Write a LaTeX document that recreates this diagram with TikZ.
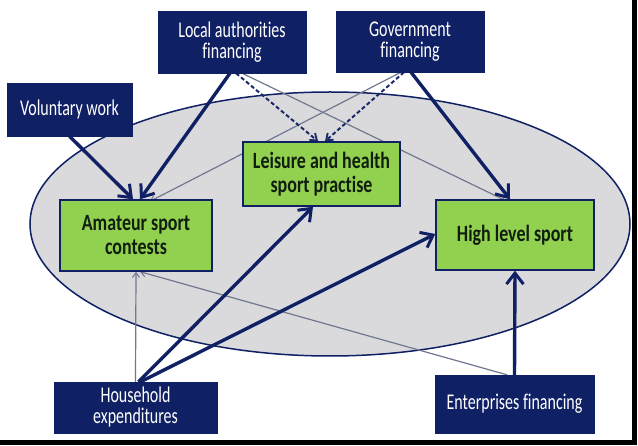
\documentclass[tikz,border=0pt]{standalone}
\usepackage{fontspec}
\setmainfont{Carlito}[FakeStretch=0.82]
\newfontfamily\srcfont{Carlito}[FakeStretch=0.71,Ligatures=NoCommon]
\newfontfamily\tgtfont{Carlito}[FakeStretch=0.77,Ligatures=NoCommon]
\usetikzlibrary{arrows.meta}
\definecolor{navy}{RGB}{16,32,100}
\definecolor{leafgreen}{RGB}{146,208,80}
\definecolor{ellgray}{RGB}{218,218,220}
\definecolor{thingray}{RGB}{112,120,142}
\definecolor{darktext}{RGB}{16,30,14}
\pgfdeclarelayer{ellipselayer}
\pgfdeclarelayer{arrowlayer}
\pgfsetlayers{ellipselayer,arrowlayer,main}
\tikzset{
  source/.style={rectangle, fill=navy, draw=navy, text=white, align=center,
    inner sep=0pt, font=\srcfont\fontsize{22.5}{21}\selectfont},
  target/.style={rectangle, fill=leafgreen, draw=navy, line width=1.4pt, text=darktext,
    align=center, inner sep=0pt, font=\tgtfont\bfseries\fontsize{23.3}{24}\selectfont},
  thickarrow/.style={draw=navy, line width=3.4pt,
    -{Straight Barb[length=11pt,width=17pt,line width=3pt]}},
  thinarrow/.style={draw=thingray, line width=1.2pt,
    -{Straight Barb[length=5pt,width=7pt,line width=1pt]}},
  dasharrow/.style={draw=navy!90!gray, line width=2pt, dash pattern=on 4pt off 2.5pt,
    -{Straight Barb[length=6pt,width=9pt,line width=1.8pt]}}
}
\begin{document}
\begin{tikzpicture}[x=1pt,y=-1pt]
\useasboundingbox (0,0) rectangle (638,446);

\begin{pgfonlayer}{ellipselayer}
\fill[white] (0,0) rectangle (638,446);
\draw[navy, line width=1.5pt, fill=ellgray] (330,224) ellipse [x radius=300, y radius=132];
\end{pgfonlayer}

% frame bars
\fill[black] (632,0) rectangle (637,445);
\fill[black] (0,440) rectangle (637,445);

% nodes
\node[source, minimum width=148, minimum height=62] (local) at (232,42) {Local authorities\\financing};
\node[source, minimum width=148, minimum height=61] (gov) at (410,41.5) {Government\\financing};
\node[source, minimum width=125, minimum height=53] (vol) at (69.5,109.5) {Voluntary work};
\node[target, minimum width=152, minimum height=71] (amateur) at (136,235.5) {Amateur sport\\contests};
\node[target, minimum width=157, minimum height=64] (leisure) at (321.5,174) {Leisure and health\\sport practise};
\node[target, minimum width=158, minimum height=70] (high) at (515,235) {High level sport};
\node[source, minimum width=163, minimum height=51] (house) at (135.5,407.5) {Household\\expenditures};
\node[source, minimum width=159, minimum height=58] (ent) at (514.5,404) {Enterprises financing};

\begin{pgfonlayer}{arrowlayer}
% thin connectors
\draw[thinarrow] ([xshift=10]local.south) -- ([xshift=-10,yshift=-1]high.north);
\draw[thinarrow] ([xshift=-9]gov.south) -- ([xshift=14,yshift=-2]amateur.north);
\draw[thinarrow] (house.north) -- (amateur.south);
\draw[thinarrow] ([xshift=-7.5]ent.north) -- ([xshift=4]amateur.south);
% dashed connectors
\draw[dasharrow] ([xshift=4]local.south) -- ([xshift=-3.5]leisure.north);
\draw[dasharrow] ([xshift=-6]gov.south) -- ([xshift=3.5]leisure.north);
% thick connectors
\draw[thickarrow] (vol.south) -- ([xshift=-3]amateur.north);
\draw[thickarrow] ([xshift=-2]local.south) -- ([xshift=4]amateur.north);
\draw[thickarrow] ([xshift=1]gov.south) -- ([xshift=-5]high.north);
\draw[thickarrow] ([xshift=3]house.north) -- ([xshift=-8.5]leisure.south);
\draw[thickarrow] ([xshift=5]house.north) -- ([yshift=1]high.west);
\draw[thickarrow] (ent.north) -- (high.south);
\end{pgfonlayer}
\end{tikzpicture}
\end{document}
